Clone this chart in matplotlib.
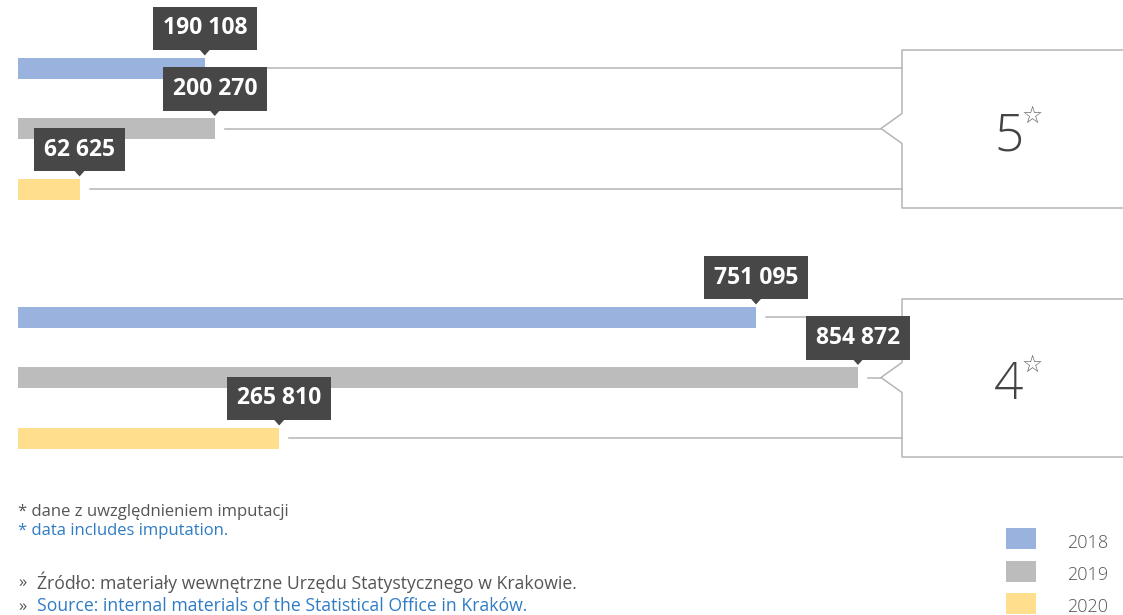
import matplotlib.pyplot as plt
from matplotlib.patches import Polygon

# data
years = ["2018", "2019", "2020"]
colors = ["#99b2de", "#bcbcbc", "#ffde8e"]
groups = ["5", "4"]
values = [
    [190108, 200270, 62625],
    [751095, 854872, 265810],
]
labels = [["190 108", "200 270", "62 625"],
          ["751 095", "854 872", "265 810"]]

note_pl = "* dane z uwzględnieniem imputacji"
note_en = "* data includes imputation."
src_pl = "Źródło: materiały wewnętrzne Urzędu Statystycznego w Krakowie."
src_en = "Source: internal materials of the Statistical Office in Kraków."

W, H = 1123, 615
x0 = 18
scale = 840 / 854872.0  # px per unit


def vx(px):
    return (px - x0) / scale


plt.rcParams['font.family'] = ['Open Sans', 'DejaVu Sans']
fig = plt.figure(figsize=(W / 100, H / 100), dpi=100)
ax = fig.add_axes([0, 0, 1, 1])
ax.set_xlim(vx(0), vx(W))
ax.set_ylim(H, 0)
ax.axis("off")

line_c = "#b5b5b5"
box_c = "#474747"
group_top = [68, 317]
row_gap = 60.5
bar_h = 21
half_tri = vx(x0 + 8) - vx(x0)

for g, name in enumerate(groups):
    ys = [group_top[g] + i * row_gap for i in range(3)]
    ax.barh(ys, values[g], height=bar_h, left=0, color=colors)
    for i, v in enumerate(values[g]):
        y = ys[i]
        end = v * scale + x0
        xs = end + 10
        xe = 902 if i != 1 else 881
        ax.plot([vx(xs), vx(xe)], [y, y], color=line_c, lw=1.1)
        # label box with pointer
        top = y - bar_h / 2
        ax.text(v, top - 29, labels[g][i], ha="center", va="center",
                color="white", fontsize=16.5, fontweight="bold",
                bbox=dict(boxstyle="square,pad=0.42", fc=box_c, ec="none"))
        tri = Polygon([[v - half_tri, top - 11], [v + half_tri, top - 11],
                       [v, top - 2]], closed=True, fc=box_c, ec="none")
        ax.add_patch(tri)
    # bracket box
    bt, bb = ys[0] - 18, ys[2] + 19
    ym = ys[1]
    pts = [[vx(1125), bt], [vx(902), bt], [vx(902), ym - 15],
           [vx(881), ym], [vx(902), ym + 15], [vx(902), bb], [vx(1125), bb]]
    ax.plot([p[0] for p in pts], [p[1] for p in pts], color=line_c, lw=1.1)
    ax.text(vx(1009), ym + 8, name, ha="center", va="center",
            fontsize=37, fontweight="light", color="#444444")
    ax.text(vx(1032), ym - 13, "☆", ha="center", va="center",
            fontsize=17, color="#666666", family=["DejaVu Sans"])

# footnotes
fs = 12
fs2 = 12.7
ax.text(vx(18), 512, note_pl, ha="left", va="center", fontsize=fs, color="#555555")
ax.text(vx(18), 531, note_en, ha="left", va="center", fontsize=fs, color="#2f7cc4")
ax.text(vx(18), 583, "»", ha="left", va="center", fontsize=fs, color="#555555")
ax.text(vx(37), 582, src_pl, ha="left", va="center", fontsize=fs2, color="#555555")
ax.text(vx(18), 607, "»", ha="left", va="center", fontsize=fs, color="#555555")
ax.text(vx(37), 606, src_en, ha="left", va="center", fontsize=fs2, color="#2f7cc4")

# legend
for i, (yr, c) in enumerate(zip(years, colors)):
    yc = 538.5 + i * 32.5
    ax.barh(yc, vx(1036) - vx(1006), left=vx(1006), height=21, color=c)
    ax.text(vx(1067), yc + 4, yr, ha="left", va="center", fontsize=13,
            fontweight="light", color="#555555")

fig.savefig("out.png", dpi=100, facecolor="white")
